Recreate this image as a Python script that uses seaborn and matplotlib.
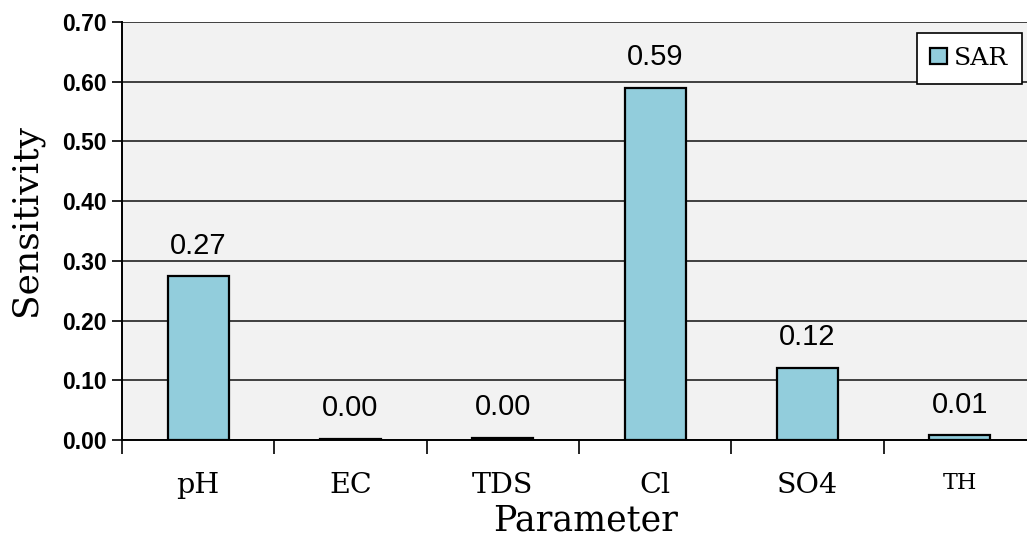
import matplotlib
matplotlib.use("Agg")
import matplotlib.pyplot as plt
import numpy as np
import pandas as pd
import seaborn as sns
from matplotlib.ticker import FixedLocator, FuncFormatter

# Data
parameters = ["pH", "EC", "TDS", "Cl", "SO4", "TH"]
sensitivity = [0.274, 0.002, 0.004, 0.590, 0.121, 0.008]
series_name = "SAR"

df = pd.DataFrame({"Parameter": parameters, "Sensitivity": sensitivity})

sns.set_style("white")
plt.rcParams["text.color"] = "black"
plt.rcParams["axes.labelcolor"] = "black"
plt.rcParams["xtick.color"] = "black"
plt.rcParams["ytick.color"] = "black"
serif = ["DejaVu Serif"]
sans = ["Liberation Sans", "DejaVu Sans"]

fig = plt.figure(figsize=(10.27, 5.37), dpi=100)
ax = fig.add_axes([0.1188, 0.1806, 0.890, 0.7784])
ax.set_facecolor("#f2f2f2")

sns.barplot(df, x="Parameter", y="Sensitivity", ax=ax, color="#92cddc",
            edgecolor="black", linewidth=1.6, width=0.4, saturation=1,
            label=series_name, zorder=3)

# Value labels
for i, v in enumerate(sensitivity):
    ax.text(i, v + 0.028, f"{v:.2f}", ha="center", va="bottom",
            fontsize=21, family=sans, zorder=4)

# Y axis
ax.set_ylim(0, 0.70)
ax.set_yticks(np.arange(0, 0.71, 0.10))
ax.yaxis.set_major_formatter(FuncFormatter(lambda x, p: f"{x:.2f}"))
ax.grid(axis="y", color="#222222", linewidth=1.2, zorder=0)
ax.set_axisbelow(True)
for lab in ax.get_yticklabels():
    lab.set_family(sans)
    lab.set_fontsize(16.5)
    lab.set_fontweight("bold")
ax.tick_params(axis="y", direction="out", length=7, width=1.2, color="black", left=True, pad=4)

# X axis: ticks at category boundaries, labels at centres
ax.set_xlim(-0.5, len(parameters) - 0.5)
ax.xaxis.set_major_locator(FixedLocator(np.arange(-0.5, len(parameters), 1.0)))
ax.xaxis.set_major_formatter(FuncFormatter(lambda x, p: ""))
ax.xaxis.set_minor_locator(FixedLocator(np.arange(len(parameters))))
ax.set_xticklabels(parameters, minor=True)
ax.tick_params(axis="x", which="major", direction="out", length=10, width=1.2, color="black", bottom=True)
ax.tick_params(axis="x", which="minor", length=0, pad=23)
for lab in ax.get_xticklabels(minor=True):
    lab.set_family(serif)
    lab.set_fontsize(20.5 if lab.get_text() != "TH" else 16)

for side in ["top", "right"]:
    ax.spines[side].set_visible(False)
for side in ["left", "bottom"]:
    ax.spines[side].set_color("black")
    ax.spines[side].set_linewidth(1.4)

ax.set_xlabel("Parameter", family=serif, fontsize=25)
ax.set_ylabel("Sensitivity", family=serif, fontsize=26)
ax.xaxis.set_label_coords(0.5077, -0.153)
ax.yaxis.set_label_coords(-0.086, 0.526)

leg = ax.legend(loc="upper right", bbox_to_anchor=(0.9847, 0.9737), borderaxespad=0,
                fancybox=False, edgecolor="black", framealpha=1,
                prop={"family": serif, "size": 18},
                handlelength=0.65, handleheight=0.65, handletextpad=0.3, borderpad=0.55)
leg.get_frame().set_linewidth(1.2)

plt.savefig("out.png", dpi=100)
